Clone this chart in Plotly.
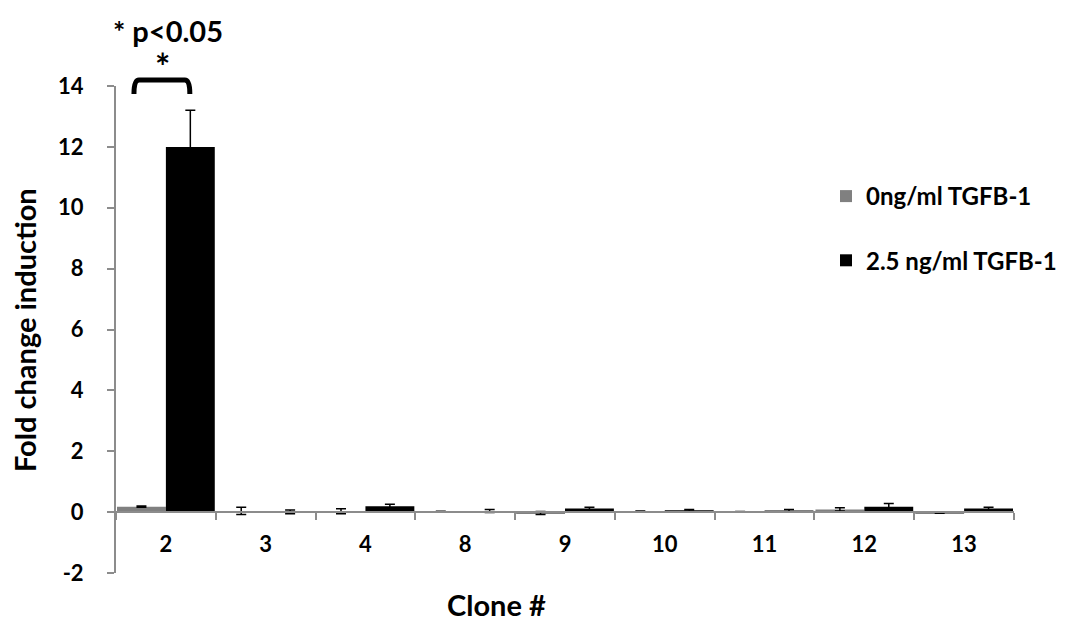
import plotly.graph_objects as go

clones = ["2", "3", "4", "8", "9", "10", "11", "12", "13"]
ctrl_vals = [0.18, 0.04, 0.03, 0.02, -0.03, 0.02, 0.01, 0.09, -0.03]
ctrl_err = [0.02, 0.12, 0.08, 0.01, 0.05, 0.02, 0.01, 0.05, 0.01]
tgf_vals = [12.0, 0.01, 0.19, 0.04, 0.12, 0.06, 0.05, 0.18, 0.12]
tgf_err = [1.2, 0.06, 0.07, 0.05, 0.04, 0.03, 0.04, 0.10, 0.04]
series_names = ["0ng/ml TGFB-1", "2.5 ng/ml TGFB-1"]
y_ticks = [-2, 0, 2, 4, 6, 8, 10, 12, 14]
y_tick_labels = ["-2", "0", "2", "4", "6", "8", "10", "12", "14"]

FONT = "Lato"
AXIS_GRAY = "#8c8c8c"
W, H = 1067, 633
L, R, T, B = 116, 53, 86, 60
PW, PH = W - L - R, H - T - B

fig = go.Figure()
fig.add_trace(go.Bar(
    x=clones, y=ctrl_vals, name=series_names[0], marker_color="#808080",
    marker_line_width=0, legendgroup="a",
    error_y=dict(type="data", array=ctrl_err, color="black", thickness=1.5, width=5),
))
fig.add_trace(go.Bar(
    x=clones, y=tgf_vals, name=series_names[1], marker_color="#000000",
    marker_line_width=0, legendgroup="b",
    error_y=dict(type="data", array=tgf_err, color="black", thickness=1.5, width=5),
))

y_min, y_max = -2, 14
zero_pos = (0 - y_min) / (y_max - y_min)

def px_x(p):
    return (p - L) / PW

def px_y(p):
    return (H - B - p) / PH

fig.update_layout(
    width=W, height=H,
    margin=dict(l=L, r=R, t=T, b=B, autoexpand=False),
    paper_bgcolor="white", plot_bgcolor="white",
    barmode="group", bargap=0.02, bargroupgap=0,
    font=dict(family=FONT, size=22, color="black", weight="bold"),
    showlegend=True,
    legend=dict(xref="container", yref="container",
                x=826 / W, y=(H - 174) / H, xanchor="left", yanchor="top",
                font=dict(family=FONT, size=24, weight="bold"),
                tracegroupgap=30, itemwidth=30, bgcolor="rgba(0,0,0,0)"),
    xaxis=dict(
        type="category", anchor="free", position=zero_pos,
        showline=True, linecolor=AXIS_GRAY, linewidth=2,
        ticks="outside", tickson="boundaries", ticklen=7, tickcolor=AXIS_GRAY, tickwidth=2,
        showgrid=False, zeroline=False,
        tickfont=dict(family=FONT, size=22, weight="bold"),
        ticklabelstandoff=12,
    ),
    yaxis=dict(
        range=[y_min, y_max], tickvals=y_ticks, ticktext=y_tick_labels,
        showline=True, linecolor=AXIS_GRAY, linewidth=2,
        ticks="outside", ticklen=7, tickcolor=AXIS_GRAY, tickwidth=2,
        showgrid=False, zeroline=False,
        tickfont=dict(family=FONT, size=22, weight="bold"),
        ticklabelstandoff=19,
    ),
)

# axis titles
fig.add_annotation(text="Fold change induction", xref="paper", yref="paper",
                   x=px_x(24), y=px_y(330), xanchor="center", yanchor="middle",
                   textangle=-90, showarrow=False,
                   font=dict(family=FONT, size=29, weight="bold"))
fig.add_annotation(text="Clone #", xref="paper", yref="paper",
                   x=px_x(496), y=px_y(604), xanchor="center", yanchor="middle",
                   showarrow=False, font=dict(family=FONT, size=29, weight="bold"))

# significance annotation
fig.add_annotation(text="* p<0.05", xref="paper", yref="paper",
                   x=px_x(168), y=px_y(30), xanchor="center", yanchor="middle",
                   showarrow=False, font=dict(family=FONT, size=29, weight="bold"))
fig.add_annotation(text="*", xref="paper", yref="paper",
                   x=px_x(162), y=px_y(66), xanchor="center", yanchor="middle",
                   showarrow=False, font=dict(family=FONT, size=36, weight="bold"))
x0, x1 = -0.32, 0.24
yb, yt = px_y(94), px_y(80)
fig.add_shape(type="path", xref="x", yref="paper",
              path=f"M {x0},{yb} Q {x0},{yt} {x0+0.05},{yt} L {x1-0.05},{yt} Q {x1},{yt} {x1},{yb}",
              line=dict(color="black", width=5))

fig.write_html("out.html", config={"displayModeBar": False},
               post_script="document.body.style.margin='0';document.body.style.padding='0';")
